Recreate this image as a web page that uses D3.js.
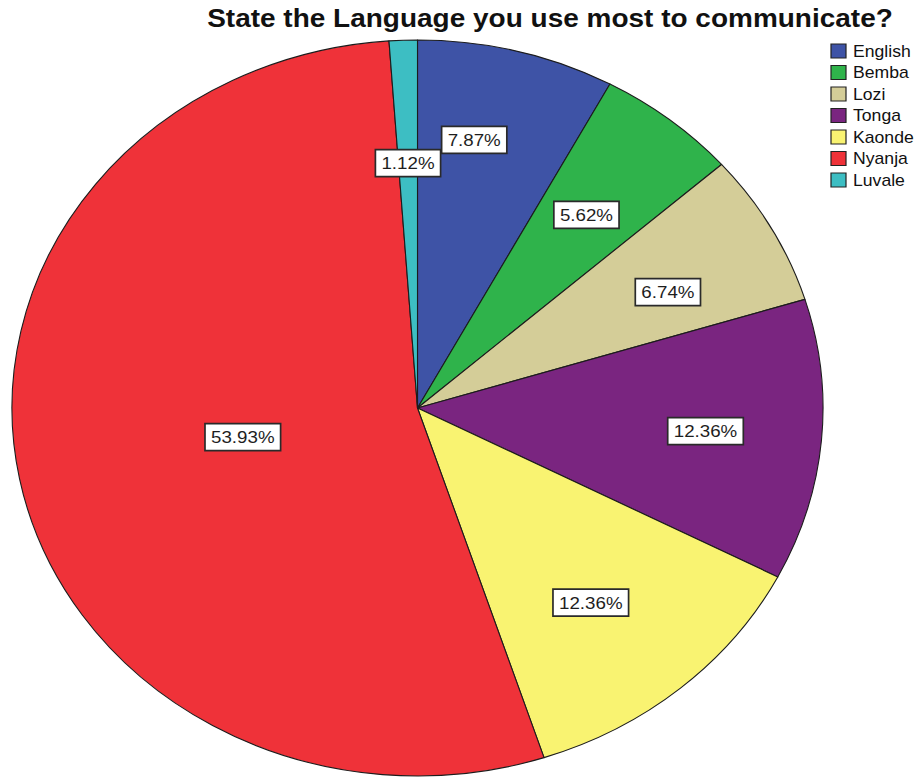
<!DOCTYPE html>
<html>
<head>
<meta charset="utf-8">
<script src="https://cdn.jsdelivr.net/npm/d3@7"></script>
<style>
  html, body { margin: 0; padding: 0; background: #fff; }
  svg { display: block; }
</style>
</head>
<body>
<svg id="chart" width="918" height="778"></svg>
<script>
// Survey answers: share of respondents by language used most
const chartTitle = "State the Language you use most to communicate?";
const languages = ["English", "Bemba", "Lozi", "Tonga", "Kaonde", "Nyanja", "Luvale"];
const percents  = [7.87, 5.62, 6.74, 12.36, 12.36, 53.93, 1.12];
const colours   = ["#3e53a6", "#2fb34b", "#d4cd98", "#7a2580", "#f9f371", "#ef3239", "#3dbec3"];

const W = 918, H = 778;
const sx = 1.102;            // horizontal stretch of the whole drawing
const R = 368;
const cx = 417.5 / sx, cy = 408;

// label placement: fraction of radius, and angular nudge (degrees)
const labelRadius = [0.742, 0.67, 0.693, 0.713, 0.68, 0.438, 0.666];
const labelTurn   = [-3.3, 0, 2.3, 0, 1.5, 0.7, 0];

const svg = d3.select("#chart");
svg.append("rect").attr("width", W).attr("height", H).attr("fill", "#fff");

const root = svg.append("g").attr("transform", `scale(${sx},1)`);

const data = languages.map((name, i) => ({ name, value: percents[i], colour: colours[i] }));

const pie = d3.pie().sort(null).value(d => d.value).startAngle(0).endAngle(2 * Math.PI);
const arcs = pie(data);
const arc = d3.arc().innerRadius(0).outerRadius(R);

const pieG = root.append("g").attr("transform", `translate(${cx},${cy})`);

pieG.selectAll("path.slice")
  .data(arcs)
  .join("path")
  .attr("class", "slice")
  .attr("d", arc)
  .attr("fill", d => d.data.colour)
  .attr("stroke", "#1c1c1c")
  .attr("stroke-width", 1.1)
  .attr("vector-effect", "non-scaling-stroke")
  .attr("stroke-linejoin", "round");

// value labels in boxed tags
const labelG = pieG.selectAll("g.lab")
  .data(arcs)
  .join("g")
  .attr("class", "lab")
  .attr("transform", (d, i) => {
    const a = (d.startAngle + d.endAngle) / 2 + labelTurn[i] * Math.PI / 180;
    const r = labelRadius[i] * R;
    return `translate(${r * Math.sin(a)},${-r * Math.cos(a)})`;
  });

labelG.each(function (d) {
  const g = d3.select(this);
  const t = g.append("text")
    .attr("text-anchor", "middle")
    .attr("dy", "0.36em")
    .attr("font-family", "Liberation Sans, Arial, sans-serif")
    .attr("font-size", 17)
    .attr("fill", "#1e1e1e")
    .text(d3.format(".2f")(d.data.value) + "%");
  const w = t.node().getComputedTextLength() + 11;
  const h = 27;
  g.insert("rect", "text")
    .attr("x", -w / 2).attr("y", -h / 2)
    .attr("width", w).attr("height", h)
    .attr("fill", "#fff")
    .attr("stroke", "#2a2a2a")
    .attr("stroke-width", 1.7)
    .attr("vector-effect", "non-scaling-stroke");
});

// title
root.append("text")
  .attr("x", 550 / sx)
  .attr("y", 27)
  .attr("text-anchor", "middle")
  .attr("font-family", "Liberation Sans, Arial, sans-serif")
  .attr("font-weight", "bold")
  .attr("font-size", 25.4)
  .attr("fill", "#111")
  .text(chartTitle);

// legend
const y = d3.scalePoint().domain(languages).range([51, 180]);
const legend = root.append("g");
const item = legend.selectAll("g")
  .data(data)
  .join("g")
  .attr("transform", d => `translate(0,${y(d.name)})`);

item.append("rect")
  .attr("x", 831 / sx)
  .attr("y", -7)
  .attr("width", 15 / sx)
  .attr("height", 14)
  .attr("fill", d => d.colour)
  .attr("stroke", "#222")
  .attr("stroke-width", 1.2)
  .attr("vector-effect", "non-scaling-stroke");

item.append("text")
  .attr("x", 853 / sx)
  .attr("y", 5.8)
  .attr("font-family", "Liberation Sans, Arial, sans-serif")
  .attr("font-size", 16)
  .attr("fill", "#111")
  .text(d => d.name);
</script>
</body>
</html>
